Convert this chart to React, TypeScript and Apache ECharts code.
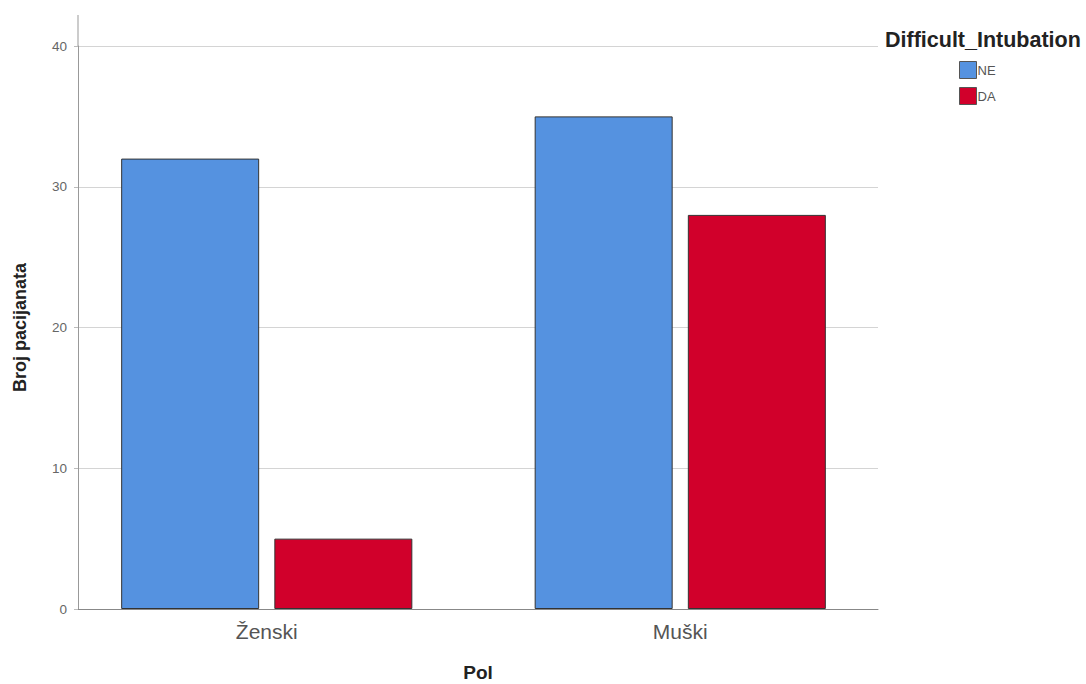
import React, { useEffect, useRef } from "react";
import * as echarts from "echarts";

const categories = ["Ženski", "Muški"];
const seriesNames = ["NE", "DA"];
const neValues = [32, 35];
const daValues = [5, 28];
const yTicks = { min: 0, max: 40, interval: 10 };
const colors = ["#5592E0", "#D1002B"];

export default function App() {
  const ref = useRef<HTMLDivElement>(null);
  useEffect(() => {
    const chart = echarts.init(ref.current!, null, { renderer: "svg" });
    const font = "Liberation Sans, Arial, sans-serif";
    chart.setOption({
      animation: false,
      backgroundColor: "#ffffff",
      textStyle: { fontFamily: font },
      title: {
        text: "Difficult_Intubation",
        left: 880,
        top: 24,
        textStyle: { fontSize: 21.5, fontWeight: "bold", color: "#222", fontFamily: font },
      },
      legend: {
        orient: "vertical",
        left: 954,
        top: 56,
        itemWidth: 17,
        itemHeight: 17,
        itemGap: 8,
        icon: "rect",
        data: seriesNames,
        itemStyle: { borderColor: "#555", borderWidth: 1 },
        textStyle: { fontSize: 13, color: "#555", padding: [0, 0, 0, -4] },
      },
      grid: [
        { left: 78, right: 208, top: 46, bottom: 75, containLabel: false, outerBoundsMode: "none" },
        { left: 60, right: 199, top: 46, bottom: 75, containLabel: false, outerBoundsMode: "none" },
      ],
      xAxis: [
        {
          type: "category",
          gridIndex: 0,
          data: categories,
          name: "Pol",
          nameLocation: "middle",
          nameGap: 54,
          nameTextStyle: { fontSize: 19, fontWeight: "bold", color: "#222", lineHeight: 19 },
          axisLine: { lineStyle: { color: "#888", width: 1 } },
          axisTick: { show: false },
          axisLabel: { show: false },
        },
        {
          type: "category",
          gridIndex: 1,
          data: categories,
          axisLine: { show: false },
          axisTick: { show: false },
          axisLabel: { fontSize: 21, color: "#555", margin: 12 },
        },
      ],
      yAxis: [
        {
          type: "value",
          gridIndex: 0,
          min: yTicks.min,
          max: yTicks.max,
          interval: yTicks.interval,
          name: "Broj pacijanata",
          nameLocation: "middle",
          nameGap: 49,
          nameTextStyle: { fontSize: 18, fontWeight: "bold", color: "#222" },
          axisLine: { show: true, lineStyle: { color: "#999", width: 1 } },
          axisTick: { show: true, length: 4, lineStyle: { color: "#bbb" } },
          axisLabel: { fontSize: 13.5, color: "#666", margin: 11 },
          splitLine: { lineStyle: { color: "#d4d4d4", width: 1.2 } },
        },
        {
          type: "value",
          gridIndex: 1,
          min: yTicks.min,
          max: yTicks.max,
          interval: yTicks.interval,
          show: false,
          splitLine: { show: false },
        },
      ],
      graphic: [
        {
          type: "line",
          shape: { x1: 78, y1: 15, x2: 78, y2: 46 },
          style: { stroke: "#999", lineWidth: 1 },
        },
      ],
      series: [
        {
          name: seriesNames[0],
          type: "bar",
          xAxisIndex: 1,
          yAxisIndex: 1,
          data: neValues,
          barWidth: 138,
          barGap: "11%",
          itemStyle: { color: colors[0], borderColor: "#333", borderWidth: 1 },
        },
        {
          name: seriesNames[1],
          type: "bar",
          xAxisIndex: 1,
          yAxisIndex: 1,
          data: daValues,
          barWidth: 138,
          itemStyle: { color: colors[1], borderColor: "#333", borderWidth: 1 },
        },
      ],
    });
    return () => chart.dispose();
  }, []);
  return (
    <div
      ref={ref}
      style={{ position: "fixed", left: 0, top: 0, width: 1086, height: 684 }}
    />
  );
}
